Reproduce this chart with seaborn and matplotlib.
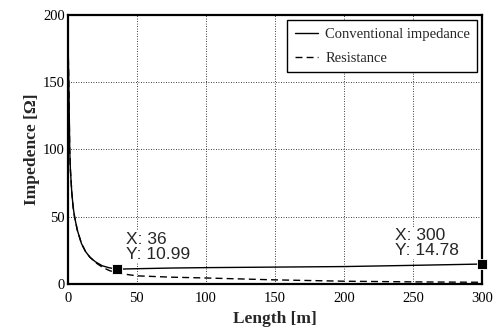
import matplotlib
matplotlib.use("Agg")
import matplotlib.pyplot as plt
import seaborn as sns
import pandas as pd

length = [0.5, 1, 1.5, 2, 3, 4, 5, 7, 10, 13, 16, 20, 25, 30, 36, 50, 75, 100, 150, 200, 250, 300]
impedance = [168, 140, 100, 85, 68, 57, 50, 40, 30, 24, 20, 16.5, 13.5, 12, 10.99, 11.3, 11.8, 12.1, 12.5, 12.9, 13.8, 14.78]
resistance = [168, 140, 100, 85, 68, 57, 50, 40, 30, 24, 20, 16, 12.5, 10, 8, 6.0, 5.0, 4.4, 3.0, 2.0, 1.5, 1.2]
tip_x = [36, 300]
tip_y = [10.99, 14.78]
xticks = [0, 50, 100, 150, 200, 250, 300]
yticks = [0, 50, 100, 150, 200]

df = pd.DataFrame({"Length": length + length,
                   "Value": impedance + resistance,
                   "Series": ["Conventional impedance"] * len(length) + ["Resistance"] * len(length)})

sns.set_style("white")
fig = plt.figure(figsize=(5.01, 3.34), dpi=100)
ax = fig.add_axes([0.135, 0.150, 0.828, 0.805])

sns.lineplot(data=df[df.Series == "Conventional impedance"], x="Length", y="Value", ax=ax,
             color="black", lw=1.0, label="Conventional impedance")
sns.lineplot(data=df[df.Series == "Resistance"], x="Length", y="Value", ax=ax,
             color="black", lw=1.0, linestyle=(0, (5, 3)), label="Resistance")
sns.scatterplot(x=tip_x, y=tip_y, ax=ax, marker="s", s=60, color="black", zorder=5,
                clip_on=False, legend=False)

ax.set_xlim(0, 300)
ax.set_ylim(0, 200)
ax.set_xticks(xticks)
ax.set_yticks(yticks)
ax.grid(True, color="black", linestyle=(0, (1, 2)), linewidth=0.6)
for s in ax.spines.values():
    s.set_color("black")
    s.set_linewidth(1.6)
ax.tick_params(axis="both", direction="in", length=3, labelsize=10.5, colors="black")
ax.tick_params(axis="x", pad=6)
ax.tick_params(axis="y", pad=2)
for lab in ax.get_xticklabels() + ax.get_yticklabels():
    lab.set_family("Liberation Serif")

ax.set_xlabel("Length [m]", fontsize=12.5, fontweight="bold", family="Liberation Serif", labelpad=4)
ax.set_ylabel("Impedence [Ω]", fontsize=12.5, fontweight="bold", family="Liberation Serif", labelpad=2)

leg = ax.legend(loc="upper right", prop={"family": "Liberation Serif", "size": 10.5},
                frameon=True, fancybox=False, edgecolor="black", handlelength=1.6,
                borderaxespad=0.35, labelspacing=0.75, borderpad=0.5, handletextpad=0.5,
                framealpha=1)
leg.get_frame().set_linewidth(1.0)

ax.text(42, 16.5, "X: 36\nY: 10.99", fontsize=12.5, family="Liberation Sans",
        va="bottom", ha="left", linespacing=1.0,
        bbox=dict(facecolor="white", edgecolor="none", pad=1))
ax.text(237, 19.5, "X: 300\nY: 14.78", fontsize=12.5, family="Liberation Sans",
        va="bottom", ha="left", linespacing=0.95,
        bbox=dict(facecolor="white", edgecolor="none", pad=1))

fig.savefig("out.png", dpi=100)
